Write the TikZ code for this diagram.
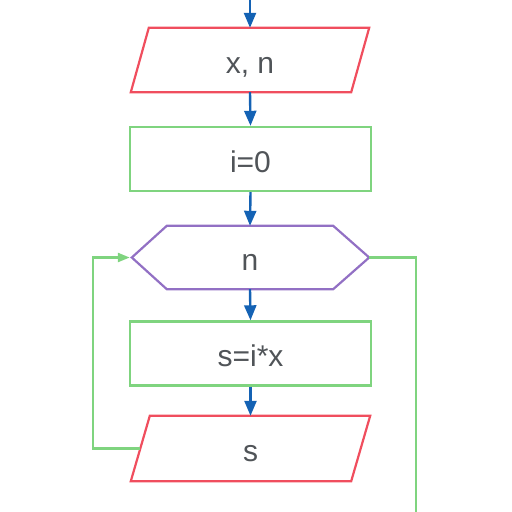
\documentclass[tikz,border=0pt]{standalone}
\usepackage{fontspec}
\setmainfont{Liberation Sans}
\usetikzlibrary{arrows.meta,calc}
\definecolor{pred}{HTML}{F04E5E}
\definecolor{pgreen}{HTML}{7FD47F}
\definecolor{ppurple}{HTML}{9270C4}
\definecolor{pblue}{HTML}{1462B4}
\definecolor{ptext}{HTML}{505458}
\begin{document}
\begin{tikzpicture}[x=1pt,y=-1pt,
  body/.style={inner sep=0pt,font=\fontsize{30}{32}\selectfont,text=ptext,anchor=center,text height=26pt,text depth=0pt},
  procbox/.style={body,draw=pgreen,line width=2.4pt,minimum width=241pt,minimum height=64pt},
  iobody/.style={body,minimum width=220pt,minimum height=64pt},
  hexbody/.style={body,minimum width=166pt,minimum height=63pt},
  flow/.style={draw=pblue,line width=2.4pt,-{Triangle[length=15pt,width=12pt]}},
  loop/.style={draw=pgreen,line width=2.4pt},
  iopath/.style={draw=pred,line width=2.2pt,line join=miter},
  hexpath/.style={draw=ppurple,line width=2.2pt}]
\useasboundingbox (0,0) rectangle (512,512);
\coordinate (start) at (250,0);
\node[iobody] (in) at (250,60) {x, n};
\draw[iopath] ([xshift=9pt]in.north west) -- ([xshift=9pt]in.north east) -- ([xshift=-9pt]in.south east) -- ([xshift=-9pt]in.south west) -- cycle;
\node[procbox] (init) at (250.5,159) {i=0};
\node[hexbody] (cond) at (250,257.5) {n};
\draw[hexpath] (cond.north west) -- (cond.north east) -- ([xshift=36pt]cond.east) -- (cond.south east) -- (cond.south west) -- ([xshift=-35pt]cond.west) -- cycle;
\coordinate (condW) at ([xshift=-37pt]cond.west);
\coordinate (condE) at ([xshift=36pt]cond.east);
\node[procbox] (calc) at (250.5,353.5) {s=i*x};
\node[iobody,minimum height=65pt] (out) at (250.5,448.5) {s};
\draw[iopath] ([xshift=9.5pt]out.north west) -- ([xshift=9.5pt]out.north east) -- ([xshift=-9.5pt]out.south east) -- ([xshift=-9.5pt]out.south west) -- cycle;
\coordinate (bend1) at (93,448.5);
\coordinate (bend2) at (93,257.5);
\coordinate (bend3) at (416,257.5);
\coordinate (bottom) at (416,512);
\draw[flow] (start) -- (in.north);
\draw[flow] (in.south) -- (init.north);
\draw[flow] (init.south) -- (cond.north);
\draw[flow] (cond.south) -- (calc.north);
\draw[flow] (calc.south) -- (out.north);
\draw[loop,-{Triangle[length=12pt,width=9pt]}] (out.west) -- (bend1) -- (bend2) -- (condW);
\draw[loop] (condE) -- (bend3) -- (bottom);
\end{tikzpicture}
\end{document}
